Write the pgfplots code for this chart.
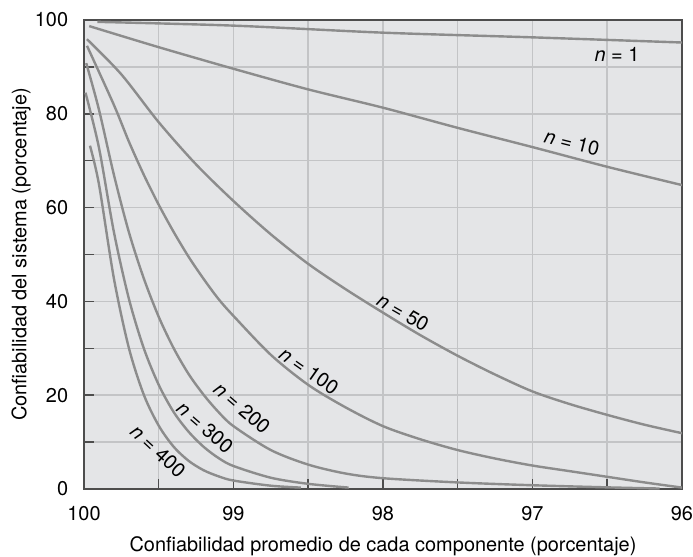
\documentclass[border=0pt]{standalone}
\usepackage{fontspec}
\setmainfont{TeX Gyre Heros}
\usepackage{pgfplots}
\pgfplotsset{compat=1.18}
\definecolor{bg}{HTML}{E4E5E7}
\definecolor{gridc}{HTML}{C3C4C6}
\definecolor{curve}{HTML}{8C8C8C}
\definecolor{axc}{HTML}{4D4D4D}
\begin{document}
\fontsize{20}{24}\selectfont
\begin{tikzpicture}
\useasboundingbox (-84bp,-68bp) rectangle (609bp,489bp);
\begin{axis}[
  at={(0,0)}, anchor=south west,
  scale only axis, width=598bp, height=469bp,
  xmin=96, xmax=100, x dir=reverse,
  ymin=0, ymax=100,
  xtick={96,97,98,99,100}, minor xtick={96.5,97.5,98.5,99.5},
  ytick={0,20,...,100}, minor ytick={10,30,...,90},
  grid=both,
  major grid style={gridc, line width=1.5bp},
  minor grid style={gridc, line width=1.5bp},
  axis background/.style={fill=bg},
  axis line style={axc, line width=1.5bp},
  tick align=inside, xtick pos=lower, ytick pos=left,
  major tick length=10bp, minor tick length=10bp,
  every tick/.style={axc, line width=1.5bp},
  /pgf/number format/assume math mode=true,
  tick label style={font=\fontsize{20}{24}\selectfont},
  xticklabel style={yshift=-11bp},
  yticklabel style={xshift=-9bp},
  label style={font=\fontsize{20}{24}\selectfont},
  xlabel={Confiabilidad promedio de cada componente (porcentaje)},
  ylabel={Confiabilidad del sistema (porcentaje)},
  xlabel style={at={(axis description cs:0.5,-0.1343)}, anchor=base},
  ylabel style={at={(axis description cs:-0.0963,0.5)}, anchor=base},
  every axis plot post/.append style={curve, line width=2.4bp, solid, mark=none, smooth},
]
% n = 1
\addplot coordinates {(99.91,99.6) (99,98.8) (98,97.3) (97,96.3) (96,95.2)};
% n = 10
\addplot coordinates {(99.965,98.7) (99.5,94.2) (99,89.6) (98.5,85.2) (98,81.3)
  (97.5,77.0) (97,72.9) (96.5,68.7) (96,64.8)};
% n = 50
\addplot coordinates {(99.98,95.9) (99.75,88.4) (99.5,78.2) (99.25,69.2)
  (99,61.4) (98.75,54.3) (98.5,48.0) (98.25,42.6) (98,37.6) (97.75,32.8)
  (97.5,28.4) (97.25,24.4) (97,20.8) (96.75,18.1) (96.5,15.8) (96.25,13.7) (96,11.9)};
% n = 100
\addplot coordinates {(99.98,94.5) (99.8,81.9) (99.7,74.1) (99.6,67.0)
  (99.5,60.6) (99.4,54.8) (99.3,49.5) (99.2,44.8) (99.1,40.5) (99,36.9)
  (98.75,28.6) (98.5,22.2) (98.25,17.4) (98,13.4) (97.75,10.6) (97.5,8.3)
  (97.25,6.5) (97,5.0) (96.75,3.8) (96.5,2.6) (96.25,1.4) (96,0.3)};
% n = 200
\addplot coordinates {(99.985,90.8) (99.9,80.9) (99.8,67.0) (99.7,54.8) (99.6,44.9)
  (99.5,36.7) (99.4,30.0) (99.3,24.5) (99.2,20.1) (99.1,16.4) (99,13.4)
  (98.75,8.3) (98.5,5.2) (98.25,3.3) (98,2.3) (97.5,1.4) (97,0.8) (96.5,0.35) (96.15,0.1)};
% n = 300
\addplot coordinates {(99.99,84.5) (99.9,72.8) (99.8,54.8) (99.7,40.6) (99.6,30.0)
  (99.5,22.2) (99.4,16.4) (99.3,12.2) (99.2,9.0) (99.1,6.6) (99,4.9)
  (98.75,2.4) (98.5,1.1) (98.23,0.3)};
% n = 400
\addplot coordinates {(99.96,73.2) (99.9,65.0) (99.8,44.9) (99.7,30.1) (99.6,20.1)
  (99.5,13.5) (99.4,9.0) (99.3,6.0) (99.2,4.0) (99.1,2.7) (99,1.8)
  (98.75,0.7) (98.55,0.3)};

\node[font=\fontsize{20}{24}\selectfont] at (axis cs:96.435,92.75) {\textit{n} = 1};
\node[font=\fontsize{20}{24}\selectfont, rotate=-14] at (axis cs:96.736,73.8) {\textit{n} = 10};
\node[font=\fontsize{20}{24}\selectfont, rotate=-30] at (axis cs:97.866,37.7) {\textit{n} = 50};
\node[font=\fontsize{20}{24}\selectfont, rotate=-35] at (axis cs:98.495,25.2) {\textit{n} = 100};
\node[font=\fontsize{20}{24}\selectfont, rotate=-41] at (axis cs:98.943,17.3) {\textit{n} = 200};
\node[font=\fontsize{20}{24}\selectfont, rotate=-41] at (axis cs:99.191,13.2) {\textit{n} = 300};
\node[font=\fontsize{20}{24}\selectfont, rotate=-43] at (axis cs:99.505,8.1) {\textit{n} = 400};
\end{axis}
\end{tikzpicture}
\end{document}
